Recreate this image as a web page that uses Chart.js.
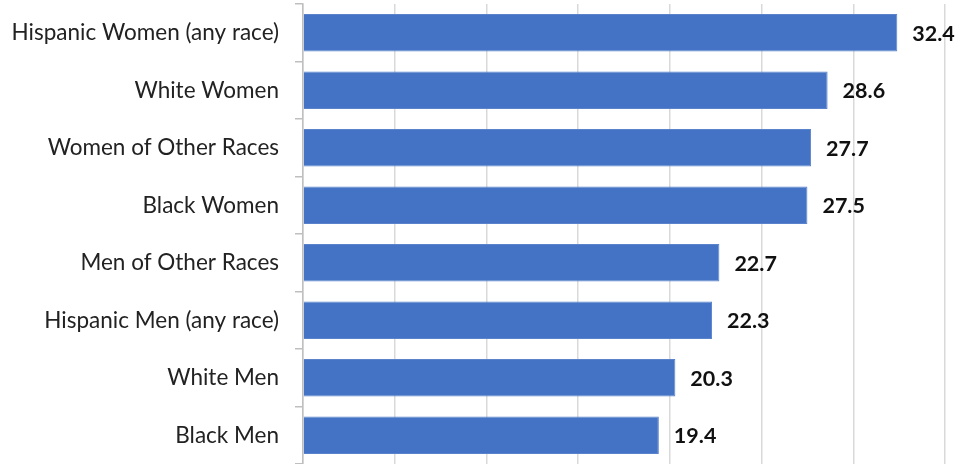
<!DOCTYPE html>
<html>
<head>
<meta charset="utf-8">
<script src="https://cdn.jsdelivr.net/npm/chart.js@4"></script>
<style>
  html, body { margin: 0; padding: 0; background: #fff; }
  #wrap { width: 960px; height: 464px; }
</style>
</head>
<body>
<div id="wrap"><canvas id="barChart"></canvas></div>
<script>
const groups = [
    'Hispanic Women (any race)',
    'White Women',
    'Women of Other Races',
    'Black Women',
    'Men of Other Races',
    'Hispanic Men (any race)',
    'White Men',
    'Black Men'
];
const values = [32.4, 28.6, 27.7, 27.5, 22.7, 22.3, 20.3, 19.4];
const valueTicks = [0, 5, 10, 15, 20, 25, 30, 35];

const FONT = 'Lato, "Open Sans", sans-serif';

// value text at the end of each bar
const barValueLabels = {
    id: 'barValueLabels',
    afterDatasetsDraw(chart) {
        const ctx = chart.ctx;
        const meta = chart.getDatasetMeta(0);
        ctx.save();
        ctx.font = 'bold 21.5px ' + FONT;
        ctx.fillStyle = '#111';
        ctx.textAlign = 'left';
        ctx.textBaseline = 'middle';
        meta.data.forEach((bar, i) => {
            ctx.fillText(values[i].toFixed(1), bar.x + 15, bar.y + 1);
        });
        ctx.restore();
    }
};

const ctx = document.getElementById('barChart');
new Chart(ctx, {
    type: 'bar',
    data: {
        labels: groups,
        datasets: [{
            data: values,
            backgroundColor: '#4472C4',
            borderColor: '#5a83cc',
            borderWidth: 1,
            categoryPercentage: 0.65,
            barPercentage: 1
        }]
    },
    options: {
        indexAxis: 'y',
        responsive: true,
        maintainAspectRatio: false,
        animation: false,
        layout: { padding: { top: 4, right: 15, bottom: 0, left: 0 } },
        plugins: { legend: { display: false }, tooltip: { enabled: false } },
        scales: {
            x: {
                min: valueTicks[0],
                max: valueTicks[valueTicks.length - 1],
                afterBuildTicks: axis => { axis.ticks = valueTicks.map(v => ({ value: v })); },
                afterFit: axis => { axis.height = 0; axis.paddingLeft = 0; axis.paddingRight = 0; },
                ticks: { display: false },
                grid: { color: '#d9d9d9', lineWidth: 1.5, drawTicks: false },
                border: { display: false }
            },
            y: {
                afterFit: axis => { axis.width = 303; axis.paddingTop = 0; axis.paddingBottom = 0; },
                ticks: { color: '#222', padding: 16, font: { family: FONT, size: 22.5 } },
                grid: { drawOnChartArea: false, tickLength: 8, color: '#bfbfbf', lineWidth: 1.5, offset: true },
                border: { color: '#bfbfbf', width: 1.5 }
            }
        }
    },
    plugins: [barValueLabels]
});
</script>
</body>
</html>
